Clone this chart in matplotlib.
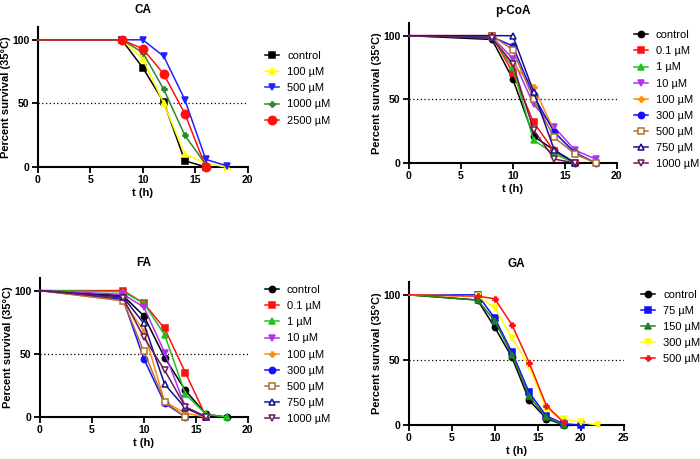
import matplotlib.pyplot as plt

plt.rcParams['font.family'] = ['Liberation Sans', 'DejaVu Sans']

# CA
ca_t = [0, 8, 10, 12, 14, 16, 18]
ca_labels = ["control", "100 µM", "500 µM", "1000 µM", "2500 µM"]
ca_vals = [
    [100, 100, 78, 51, 5, 0],
    [100, 100, 85, 50, 10, 3, 0],
    [100, 100, 100, 87, 53, 6, 1],
    [100, 100, 90, 61, 25, 2],
    [100, 100, 93, 73, 42, 0],
]

# p-CoA
pc_t = [0, 8, 10, 12, 14, 16, 18]
pc_labels = ["control", "0.1 µM", "1 µM", "10 µM", "100 µM", "300 µM", "500 µM", "750 µM", "1000 µM"]
pc_vals = [
    [100, 97, 66, 21, 10, 0],
    [100, 100, 71, 32, 9, 0],
    [100, 99, 75, 18, 7, 0],
    [100, 99, 82, 46, 28, 10, 3],
    [100, 99, 78, 60, 25, 7, 0],
    [100, 99, 92, 53, 24, 8, 0],
    [100, 100, 89, 50, 20, 7, 0],
    [100, 100, 100, 56, 10, 0],
    [100, 98, 78, 26, 3, 0],
]

# FA
fa_t = [0, 8, 10, 12, 14, 16, 18]
fa_labels = pc_labels
fa_vals = [
    [100, 96, 80, 47, 21, 2, 0],
    [100, 100, 90, 70, 35, 0],
    [100, 99, 90, 65, 18, 2, 0],
    [100, 97, 87, 51, 8, 0],
    [100, 92, 68, 12, 3, 0],
    [100, 93, 46, 11, 0],
    [100, 92, 52, 12, 0],
    [100, 95, 74, 26, 7, 0],
    [100, 94, 63, 37, 8, 0],
]

# GA
ga_t = [0, 8, 10, 12, 14, 16, 18, 20, 22]
ga_labels = ["control", "75 µM", "150 µM", "300 µM", "500 µM"]
ga_vals = [
    [100, 96, 75, 52, 19, 5, 0],
    [100, 100, 82, 56, 25, 7, 1, 0],
    [100, 96, 80, 54, 22, 6, 0],
    [100, 99, 90, 67, 45, 12, 5, 2, 0],
    [100, 99, 97, 77, 48, 15, 2],
]

# styles: (color, marker, size, filled)
ca_styles = [("black", "s", 4.5, True), ("#ffff00", "^", 4.5, True), ("#2020ff", "v", 4.5, True),
             ("#2a8a2a", "P", 3.5, True), ("#ff1010", "o", 6, True)]
pc_styles = [("black", "o", 4.5, True), ("#ff1010", "s", 4.5, True), ("#20c020", "^", 4.5, True),
             ("#b030f0", "v", 4.5, True), ("#ff8c10", "P", 3.5, True), ("#1010ff", "o", 4.5, True),
             ("#b07030", "s", 5, False), ("#101090", "^", 5, False), ("#6b1a5a", "v", 5, False)]
ga_styles = [("black", "o", 4.5, True), ("#1010ff", "s", 4.5, True), ("#208020", "^", 4.5, True),
             ("#ffff00", "v", 4.5, True), ("#ff1010", "P", 3.5, True)]

# title, times, values, labels, styles, axes rect, x max, legend offset, title y
panels = [
    ("CA", ca_t, ca_vals, ca_labels, ca_styles, [0.054, 0.636, 0.30, 0.305], 20, 0.14, 0.992),
    ("p-CoA", pc_t, pc_vals, pc_labels, pc_styles, [0.584, 0.645, 0.297, 0.305], 20, 0.02, 0.99),
    ("FA", fa_t, fa_vals, fa_labels, pc_styles, [0.057, 0.0915, 0.297, 0.303], 20, 0.02, 0.44),
    ("GA", ga_t, ga_vals, ga_labels, ga_styles, [0.584, 0.074, 0.307, 0.312], 25, 0.025, 0.437),
]

fig = plt.figure(figsize=(7, 4.59), dpi=100)

for title, t, vals, labels, styles, pos, xmax, ltop, ty in panels:
    ax = fig.add_axes(pos)
    for v, lab, (c, m, ms, filled) in zip(vals, labels, styles):
        ax.plot(t[:len(v)], v, color=c, marker=m, markersize=ms, linewidth=1.1,
                markevery=list(range(1, len(v))),
                markerfacecolor=c if filled else "white", markeredgecolor=c,
                markeredgewidth=1.1, label=lab, clip_on=False, zorder=3)
    ax.axhline(50, color="black", linestyle=(0, (1, 2)), linewidth=0.9)
    ax.set_xlim(0, xmax)
    ax.set_ylim(0, 110)
    ax.set_yticks([0, 50, 100])
    ax.set_xticks(range(0, xmax + 1, 5))
    for s in ("top", "right"):
        ax.spines[s].set_visible(False)
    for s in ("left", "bottom"):
        ax.spines[s].set_linewidth(1.5)
    ax.tick_params(width=1.3, length=4, labelsize=7.5, pad=2)
    for lbl in ax.get_xticklabels() + ax.get_yticklabels():
        lbl.set_fontweight("bold")
    fig.text(pos[0] + pos[2] / 2, ty, title, ha="center", va="top",
             fontsize=8.5, fontweight="bold")
    ax.set_xlabel("t (h)", fontsize=8, fontweight="bold", labelpad=2)
    ax.set_ylabel("Percent survival (35°C)", fontsize=8, fontweight="bold", labelpad=1)
    ax.legend(loc="upper left", bbox_to_anchor=(1.06, 1 - ltop), frameon=False,
              fontsize=8, handlelength=1.3, handletextpad=0.7, labelspacing=0.55,
              borderaxespad=0)

fig.savefig("out.png", dpi=100)
